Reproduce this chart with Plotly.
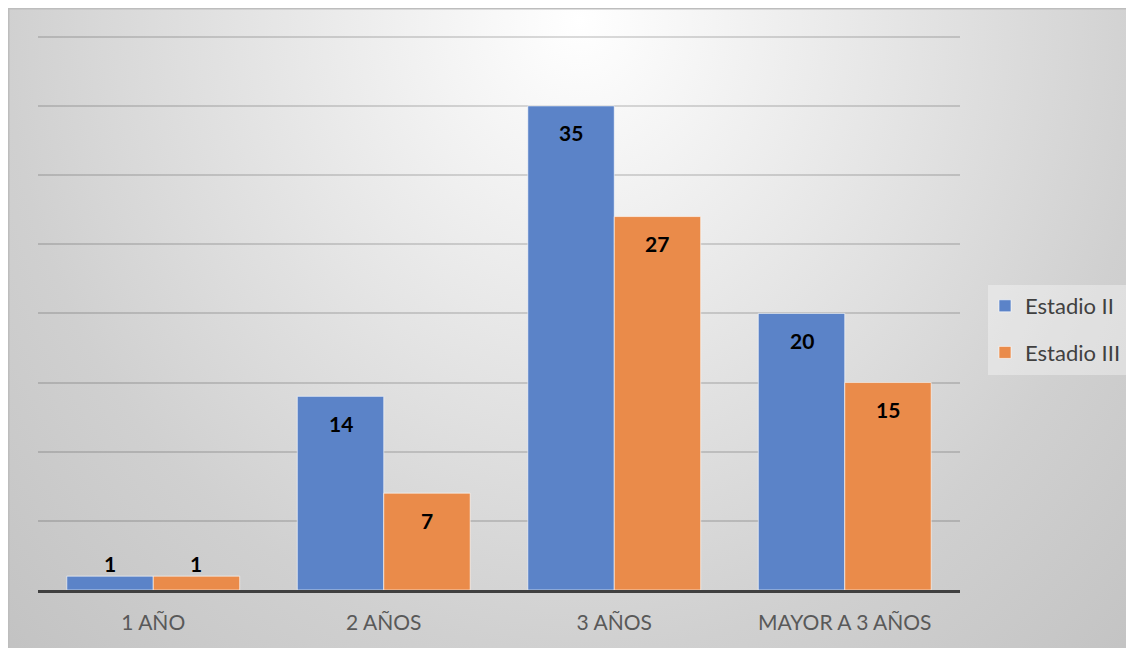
import plotly.graph_objects as go
import urllib.parse

categories = ["1 AÑO", "2 AÑOS", "3 AÑOS", "MAYOR A 3 AÑOS"]
estadio_ii = [1, 14, 35, 20]
estadio_iii = [1, 7, 27, 15]
series_names = ["Estadio II", "Estadio III"]
y_ticks = [0, 5, 10, 15, 20, 25, 30, 35, 40]

W, H = 1134, 648
ML, MR, MT, MB = 30, 182, 26, 66
PW, PH = W - ML - MR, H - MT - MB

def px_to_paper_x(px):
    return (px - ML) / PW

def px_to_paper_y(py):
    return (H - MB - py) / PH

svg = (
    "<svg xmlns='http://www.w3.org/2000/svg' width='%d' height='%d' viewBox='0 0 %d %d' preserveAspectRatio='none'>"
    "<defs><radialGradient id='g' gradientUnits='userSpaceOnUse' cx='572' cy='12' r='820' "
    "gradientTransform='translate(572,12) scale(1,1.1) translate(-572,-12)'>"
    "<stop offset='0' stop-color='#ffffff'/><stop offset='0.7' stop-color='#d0d0d0'/>"
    "<stop offset='1' stop-color='#c2c2c2'/>"
    "</radialGradient></defs><rect width='%d' height='%d' fill='url(#g)'/></svg>"
) % (W, H, W, H, W, H)
svg_uri = "data:image/svg+xml;charset=utf-8," + urllib.parse.quote(svg)

blue = "#5B83C8"
orange = "#EA8B4A"
FONT = "Lato, 'Open Sans', sans-serif"

fig = go.Figure()
fig.add_trace(go.Bar(
    x=categories, y=estadio_ii, name=series_names[0],
    marker=dict(color=blue, line=dict(color="rgba(255,255,255,0.6)", width=1)),
    legendgroup="a",
))
fig.add_trace(go.Bar(
    x=categories, y=estadio_iii, name=series_names[1],
    marker=dict(color=orange, line=dict(color="rgba(255,255,255,0.6)", width=1)),
    legendgroup="b",
))

label_font = dict(family=FONT, size=21, color="#000000")
bar_px = PW / len(categories) * 0.75 / 2
annotations = []
for vals, shift in ((estadio_ii, -bar_px / 2), (estadio_iii, bar_px / 2)):
    for c, v in zip(categories, vals):
        inside = v >= 3
        annotations.append(dict(
            x=c, y=v, xref="x", yref="y", text="<b>%d</b>" % v,
            showarrow=False, xshift=shift, yshift=-27 if inside else 13,
            font=label_font,
        ))

fig.update_layout(
    width=W, height=H,
    margin=dict(l=ML, r=MR, t=MT, b=MB, autoexpand=False),
    paper_bgcolor="#ffffff",
    plot_bgcolor="rgba(0,0,0,0)",
    barmode="group", bargap=0.25, bargroupgap=0,
    showlegend=True,
    legend=dict(
        x=px_to_paper_x(977), y=px_to_paper_y(277), xanchor="left", yanchor="top",
        bgcolor="rgba(0,0,0,0)", borderwidth=0,
        font=dict(family=FONT, size=22, color="#404040"),
        tracegroupgap=15, traceorder="grouped",
        itemwidth=30,
    ),
    xaxis=dict(
        showline=True, linecolor="#404040", linewidth=3,
        ticks="", showgrid=False,
        tickfont=dict(family=FONT, size=21, color="#595959"),
        ticklabelstandoff=12,
    ),
    yaxis=dict(
        range=[0, 40.2], tickvals=y_ticks, showticklabels=False,
        showgrid=True, gridcolor="rgba(0,0,0,0.14)", gridwidth=1.5,
        zeroline=False, showline=False, ticks="",
    ),
    annotations=annotations,
    images=[dict(
        source=svg_uri, xref="paper", yref="paper",
        x=px_to_paper_x(0), y=px_to_paper_y(0),
        sizex=px_to_paper_x(W) - px_to_paper_x(0),
        sizey=px_to_paper_y(0) - px_to_paper_y(H),
        xanchor="left", yanchor="top", sizing="stretch", layer="below",
    )],
    shapes=[
        dict(
            type="rect", xref="paper", yref="paper", layer="below",
            x0=px_to_paper_x(0.75), x1=px_to_paper_x(W + 2),
            y0=px_to_paper_y(H + 2), y1=px_to_paper_y(0.75),
            line=dict(color="#bdbdbd", width=1.5), fillcolor="rgba(0,0,0,0)",
        ),
        dict(
            type="rect", xref="paper", yref="paper", layer="below",
            x0=px_to_paper_x(980), x1=px_to_paper_x(1118),
            y0=px_to_paper_y(367), y1=px_to_paper_y(277),
            line=dict(width=0), fillcolor="rgba(255,255,255,0.35)",
        ),
    ],
)

fig.write_html("out.html")
